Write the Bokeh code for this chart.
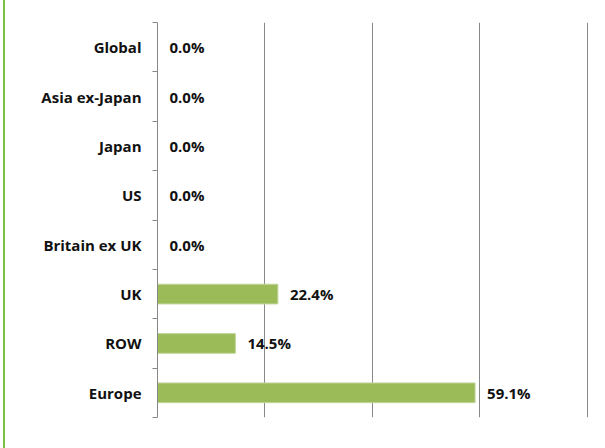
from bokeh.plotting import figure
from bokeh.models import (ColumnDataSource, Range1d, FixedTicker, LinearAxis, Spacer)
from bokeh.layouts import row
from bokeh.core.properties import value
from bokeh.embed import file_html
from bokeh.resources import INLINE

# Data (top to bottom as shown)
categories = ["Global", "Asia ex-Japan", "Japan", "US", "Britain ex UK", "UK", "ROW", "Europe"]
values = [0.0, 0.0, 0.0, 0.0, 0.0, 22.4, 14.5, 59.1]
x_ticks = [0, 20, 40, 60, 80]

n = len(categories)
# bottom-up positions
ypos = [n - 1 - i + 0.5 for i in range(n)]
labels = [f"{v:.1f}%" for v in values]

src = ColumnDataSource(dict(y=ypos, v=values, lab=labels, cat=categories))

FONT = "Open Sans"
FSIZE = "15px"

p = figure(width=600, height=448, output_backend="svg", toolbar_location=None,
           x_range=Range1d(0, 80.2), y_range=Range1d(0, n),
           min_border_left=152, min_border_right=17, min_border_top=22, min_border_bottom=31,
           y_axis_location=None)
p.outline_line_color = None
p.xaxis.visible = False
p.ygrid.grid_line_color = None
p.xgrid.ticker = FixedTicker(ticks=x_ticks[1:])
p.xgrid.grid_line_color = "#888888"
p.xgrid.grid_line_width = 1

yaxis = LinearAxis(ticker=FixedTicker(ticks=ypos, minor_ticks=list(range(n + 1))))
yaxis.major_label_overrides = {y: c for y, c in zip(ypos, categories)}
yaxis.major_tick_line_color = None
yaxis.major_tick_out = 0
yaxis.major_tick_in = 0
yaxis.minor_tick_out = 5
yaxis.minor_tick_in = 0
yaxis.minor_tick_line_color = "#888888"
yaxis.axis_line_color = "#888888"
yaxis.axis_line_width = 1
yaxis.major_label_standoff = 11
yaxis.major_label_text_font = FONT
yaxis.major_label_text_font_style = "bold"
yaxis.major_label_text_font_size = FSIZE
yaxis.major_label_text_color = "#111111"
p.add_layout(yaxis, "left")

p.hbar(y="y", left=0, right="v", height=0.4, source=src,
       fill_color="#9BBB59", line_color="#C4D79E", line_width=1)

p.text(x="v", y="y", text="lab", source=src, x_offset=12,
       text_align="left", text_baseline="middle",
       text_font=value(FONT), text_font_style="bold", text_font_size=FSIZE,
       text_color="#111111")

left_pad = Spacer(width=3, height=448)
green_line = Spacer(width=2, height=448, styles={"background-color": "#7DC142"})
layout = row(left_pad, green_line, p, spacing=0)

open("out.html", "w").write(file_html(layout, INLINE))
